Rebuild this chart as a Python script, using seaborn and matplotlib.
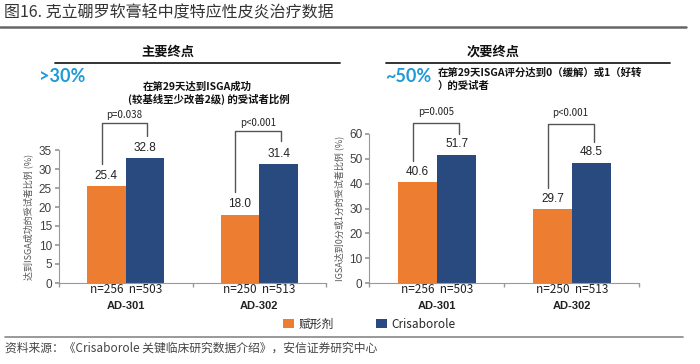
import matplotlib
matplotlib.use("Agg")
import matplotlib.pyplot as plt
from matplotlib.patches import Patch
from matplotlib.lines import Line2D
import seaborn as sns
import pandas as pd

# ---------------- data ----------------
studies = ["AD-301", "AD-302"]
groups = ["赋形剂", "Crisaborole"]
n_labels = ["n=256  n=503", "n=250  n=513"]
primary_vehicle = [25.4, 18.0]
primary_cris = [32.8, 31.4]
secondary_vehicle = [40.6, 29.7]
secondary_cris = [51.7, 48.5]
primary_p = ["p=0.038", "p<0.001"]
secondary_p = ["p=0.005", "p<0.001"]
primary_ticks = [0, 5, 10, 15, 20, 25, 30, 35]
secondary_ticks = [0, 10, 20, 30, 40, 50, 60]

ORANGE = "#ED7D31"
BLUE = "#284A7E"
CYAN = "#1E9AD6"
GRAY = "#404040"
ARIAL = ["Liberation Sans", "DejaVu Sans"]

sns.set_theme(style="white")
plt.rcParams["font.family"] = ["Noto Sans CJK SC", "DejaVu Sans"]

W, H = 700, 364
fig = plt.figure(figsize=(7, 3.64), dpi=100)


def fx(px):
    return px / W


def fy(py):
    return 1 - py / H


def make_df(veh, cris):
    rows = []
    for s, v, c in zip(studies, veh, cris):
        rows.append({"study": s, "group": groups[0], "value": v})
        rows.append({"study": s, "group": groups[1], "value": c})
    return pd.DataFrame(rows)


def draw_panel(ax, veh, cris, ticks, pvals, ylabel, leg_gap, top_y, pad_txt):
    df = make_df(veh, cris)
    sns.barplot(data=df, x="study", y="value", hue="group", hue_order=groups,
                palette=[ORANGE, BLUE], width=0.58, ax=ax, legend=False,
                saturation=1, edgecolor="none")
    ax.set_xlim(-0.5, 1.5)
    ax.set_ylim(0, ticks[-1])
    ax.set_yticks(ticks)
    ax.set_yticklabels([str(t) for t in ticks], fontsize=8.5, color=GRAY, family=ARIAL)
    ax.set_xticks([0, 1])
    ax.set_xticklabels(n_labels, fontsize=8.5, color="#222222")
    ax.set_xticks([-0.5, 0.5, 1.5], minor=True)
    ax.tick_params(axis="x", which="major", length=0, pad=0)
    ax.tick_params(axis="x", which="minor", length=3, color="#999999", direction="out", bottom=True)
    ax.tick_params(axis="y", length=3, color="#999999", direction="out", left=True, pad=2)
    ax.set_xlabel("")
    ax.set_ylabel(ylabel, fontsize=6.5, color="#555555", labelpad=4)
    for sp in ["top", "right"]:
        ax.spines[sp].set_visible(False)
    for sp in ["left", "bottom"]:
        ax.spines[sp].set_color("#999999")
        ax.spines[sp].set_linewidth(0.8)
    for cont in ax.containers:
        ax.bar_label(cont, fmt="%.1f", fontsize=8.5, padding=3, color="#222222", family=ARIAL)
    for i, s in enumerate(studies):
        ax.annotate(s, xy=(i, 0), xycoords=("data", "axes fraction"),
                    xytext=(0, -16.5), textcoords="offset points",
                    ha="center", va="center", fontsize=8, fontweight="bold",
                    color="#222222", family=ARIAL)
    ymax = ticks[-1]
    for i, p in enumerate(pvals):
        xl, xr = i - 0.18, i + 0.16
        yl = veh[i] + leg_gap * ymax
        yr = cris[i] + leg_gap * ymax
        ax.plot([xl, xl, xr, xr], [yl, top_y[i], top_y[i], yr], color="#555555",
                lw=1.0, clip_on=False)
        ax.text((xl + xr) / 2, top_y[i] + pad_txt, p, ha="center", va="bottom",
                fontsize=7, color="#222222", clip_on=False)


# left panel
axL = fig.add_axes([fx(59), fy(283), fx(326 - 59), (283 - 150) / H])
draw_panel(axL, primary_vehicle, primary_cris, primary_ticks, primary_p,
           "达到ISGA成功的受试者比例 (%)", 0.17, [42.0, 40.0], 0.8)

# right panel
axR = fig.add_axes([fx(369.5), fy(283), fx(639.5 - 369.5), (283 - 134) / H])
draw_panel(axR, secondary_vehicle, secondary_cris, secondary_ticks, secondary_p,
           "IGSA达到0分或1分的受试者比例 (%)", 0.14, [64.5, 64.0], 2.5)

# title & decorations
fig.text(fx(4), fy(13), "图16. 克立硼罗软膏轻中度特应性皮炎治疗数据", fontsize=11.5,
         color="#333333", va="center", ha="left")
fig.add_artist(Line2D([fx(0), fx(686)], [fy(27), fy(27)], color="#666666", lw=1.8))

fig.text(fx(168), fy(52), "主要终点", fontsize=9.5, fontweight="bold", color="#111111",
         ha="center", va="center")
fig.add_artist(Line2D([fx(55), fx(340)], [fy(63), fy(63)], color="#222222", lw=1.3))
fig.text(fx(493), fy(52), "次要终点", fontsize=9.5, fontweight="bold", color="#111111",
         ha="center", va="center")
fig.add_artist(Line2D([fx(386), fx(670)], [fy(63), fy(63)], color="#222222", lw=1.3))

fig.text(fx(39), fy(77), ">30%", fontsize=13, fontweight="bold", color=CYAN,
         ha="left", va="center", family=["Lato", "DejaVu Sans"])
fig.text(fx(385), fy(77), "~50%", fontsize=13, fontweight="bold", color=CYAN,
         ha="left", va="center", family=["Lato", "DejaVu Sans"])

fig.text(fx(197), fy(87), "在第29天达到ISGA成功", fontsize=7.5, fontweight="bold",
         color="#111111", ha="center", va="center")
fig.text(fx(209), fy(99), "(较基线至少改善2级) 的受试者比例", fontsize=7.5, fontweight="bold",
         color="#111111", ha="center", va="center")
fig.text(fx(438), fy(73), "在第29天ISGA评分达到0（缓解）或1（好转", fontsize=7.5,
         fontweight="bold", color="#111111", ha="left", va="center")
fig.text(fx(438), fy(86), "）的受试者", fontsize=7.5, fontweight="bold",
         color="#111111", ha="left", va="center")

# legend
handles = [Patch(facecolor=ORANGE, edgecolor="none"), Patch(facecolor=BLUE, edgecolor="none")]
fig.legend(handles, groups, ncol=2, loc="center left", bbox_to_anchor=(fx(283), fy(324)),
           frameon=False, handlelength=0.9, handleheight=0.9, columnspacing=3.6,
           handletextpad=0.4, borderaxespad=0, borderpad=0, fontsize=8.5)

fig.add_artist(Line2D([fx(5), fx(683)], [fy(337), fy(337)], color="#888888", lw=1.2))
fig.text(fx(5), fy(348), "资料来源：《Crisaborole 关键临床研究数据介绍》，安信证券研究中心",
         fontsize=8.5, style="italic", color="#444444", ha="left", va="center")

fig.savefig("out.png", dpi=100, facecolor="white")
